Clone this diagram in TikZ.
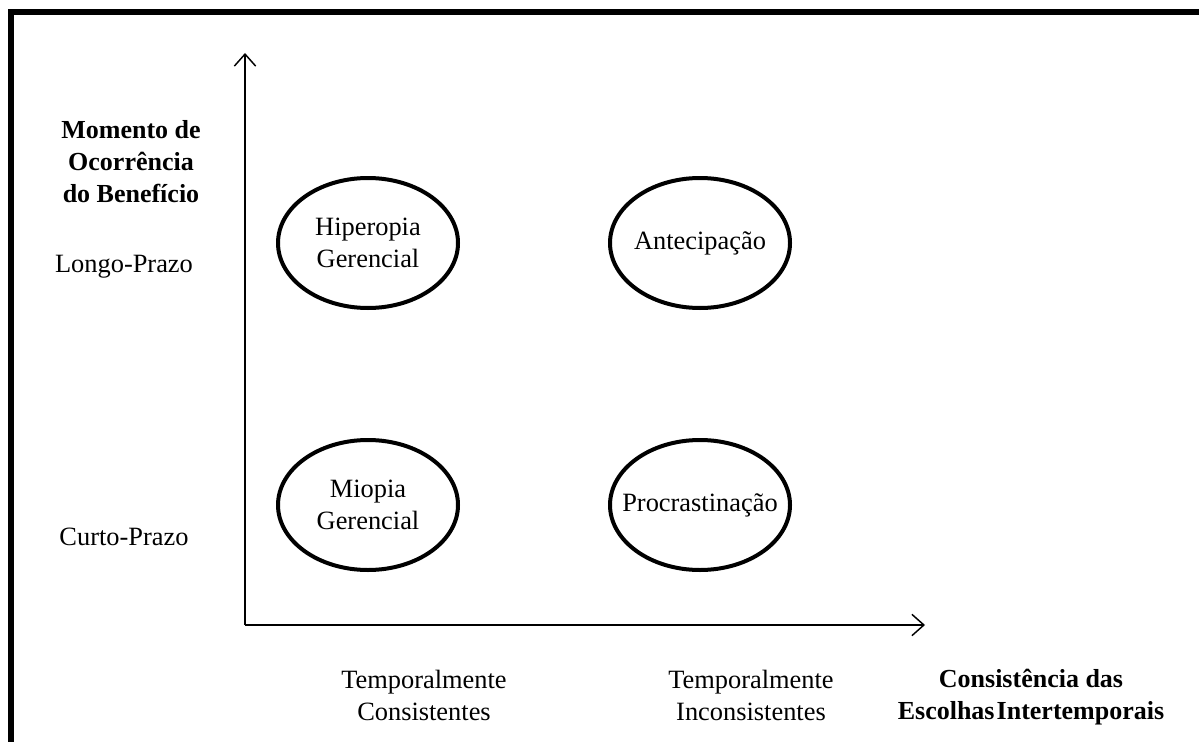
\documentclass[tikz,border=0pt]{standalone}
\usepackage{fontspec}
\setmainfont{Liberation Serif}
\usetikzlibrary{arrows.meta,shapes.geometric}
\begin{document}
\begin{tikzpicture}[x=0.75pt,y=-0.75pt,
  lbl/.style={font=\fontsize{19.8}{24}\selectfont, align=center, inner sep=0pt},
  blbl/.style={lbl, font=\fontsize{19.5}{24}\selectfont\bfseries},
  quad/.style={draw, ellipse, line width=3pt, minimum width=135pt, minimum height=97.5pt, inner sep=0pt},
  axis/.style={line width=1.1pt, -{Straight Barb[length=9pt,width=16pt,line width=1.1pt]}},
  frame/.style={line width=4.2pt}]
\useasboundingbox (0,0) rectangle (1199,742);
% frame (top and left edges visible)
\draw[frame] (11,770) -- (11,12) -- (1230,12);
% axes
\coordinate (o) at (245,625);
\coordinate (yt) at (245,53);
\coordinate (xt) at (925,625);
\draw[axis] (o) -- (yt);
\draw[axis] (o) -- (xt);
% ellipses
\node[quad, label={[lbl]center:Hiperopia\\Gerencial}] (hg) at (368,243) {};
\node[quad, label={[lbl]center:Antecipação}] (an) at (700,243) {};
\node[quad, label={[lbl]center:Miopia\\Gerencial}] (mg) at (368,505) {};
\node[quad, label={[lbl]center:Procrastinação}] (pr) at (700,505) {};
% y-axis labels
\node[blbl] (ytitle) at (131,162) {Momento de\\Ocorrência\\do Benefício};
\node[lbl] (lp) at (124,267) {Longo-Prazo};
\node[lbl] (cp) at (124,537) {Curto-Prazo};
% x-axis labels
\node[lbl] (tc) at (424,695) {Temporalmente\\Consistentes};
\node[lbl] (ti) at (751,695) {Temporalmente\\Inconsistentes};
\node[blbl] (xtitle) at (1031,697) {Consistência das\\Escolhas\hspace{0.08em}Intertemporais};
\end{tikzpicture}
\end{document}
